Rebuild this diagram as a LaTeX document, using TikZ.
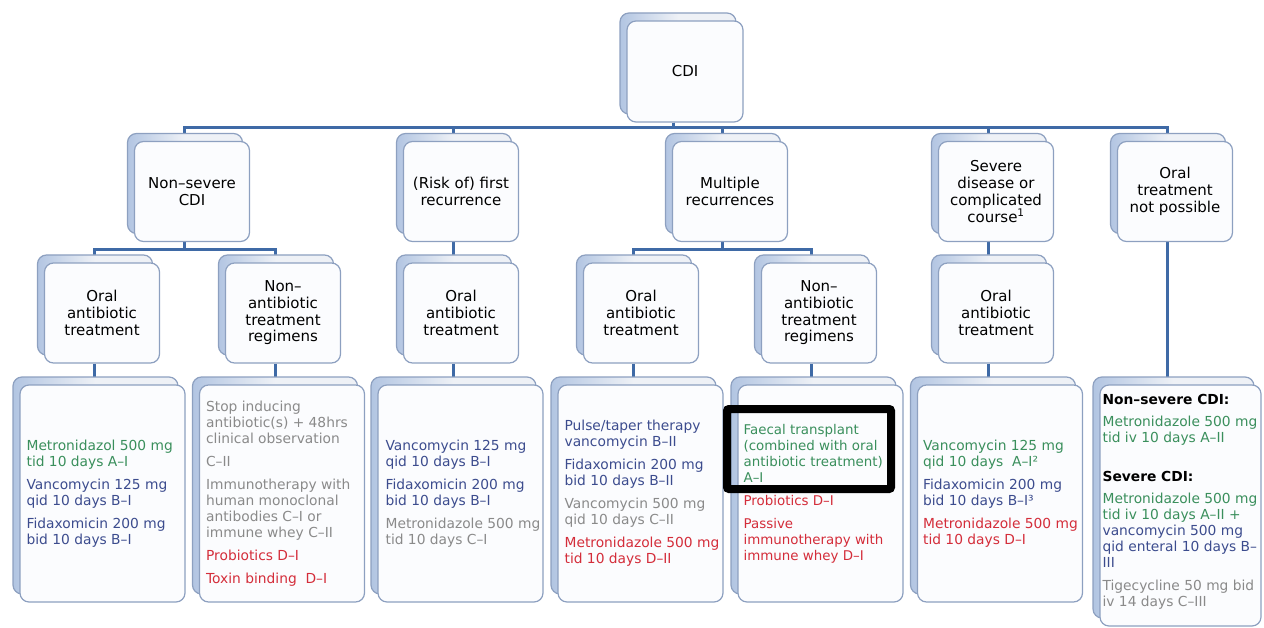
\documentclass[tikz,border=0pt]{standalone}
\usepackage{fontspec}
\setmainfont{DejaVu Sans}
\usetikzlibrary{shadows,backgrounds}
\definecolor{cgreen}{HTML}{3A8F5C}
\definecolor{cblue}{HTML}{3C4C8E}
\definecolor{cgray}{HTML}{8A8A8A}
\definecolor{cred}{HTML}{D42D3A}
\definecolor{boxborder}{HTML}{8DA0C0}
\definecolor{boxfill}{HTML}{FBFCFE}
\definecolor{shadeL}{HTML}{B2C5E2}
\definecolor{shadeR}{HTML}{EEF1F6}
\definecolor{conn}{HTML}{3F6AA6}
\newcommand{\Gr}[1]{\textcolor{cgreen}{#1}}
\newcommand{\Bl}[1]{\textcolor{cblue}{#1}}
\newcommand{\Gy}[1]{\textcolor{cgray}{#1}}
\newcommand{\Rd}[1]{\textcolor{cred}{#1}}
\tikzset{
  box/.style={draw=boxborder, line width=1.2pt, rounded corners=9pt, fill=boxfill, inner sep=0pt,
    copy shadow={shadow xshift=-7pt, shadow yshift=8pt, left color=shadeL, right color=shadeR, middle color=shadeR, draw=boxborder, line width=1.2pt}},
  titlebox/.style={box, minimum width=115pt, minimum height=100pt, align=center,
    font=\fontsize{15}{16.7}\selectfont},
  leafbox/.style={box, minimum width=165pt, minimum height=217pt},
  conn/.style={draw=conn, line width=3pt},
  txt/.style={anchor=west, align=left, inner sep=0pt, font=\fontsize{13.8}{16}\selectfont},
}
\begin{document}
\begin{tikzpicture}[x=1pt,y=-1pt]
\useasboundingbox (0,0) rectangle (1264,628);
% level 1
\node[titlebox, minimum width=116pt, minimum height=101pt] (cdi) at (685,71.5) {CDI};
% level 2
\node[titlebox] (ns) at (192,191.5) {Non–severe\\CDI};
\node[titlebox] (risk) at (461,191.5) {(Risk of) first\\recurrence};
\node[titlebox] (mult) at (730,191.5) {Multiple\\recurrences};
\node[titlebox] (sev) at (996,191.5) {Severe\\disease or\\complicated\\course\textsuperscript{1}};
\node[titlebox] (np) at (1175,191.5) {Oral\\treatment\\not possible};
% level 3
\node[titlebox] (nsoral) at (102,313) {Oral\\antibiotic\\treatment};
\node[titlebox] (nsnon) at (283,313) {Non–\\antibiotic\\treatment\\regimens};
\node[titlebox] (riskoral) at (461,313) {Oral\\antibiotic\\treatment};
\node[titlebox] (multoral) at (641,313) {Oral\\antibiotic\\treatment};
\node[titlebox] (multnon) at (819,313) {Non–\\antibiotic\\treatment\\regimens};
\node[titlebox] (sevoral) at (996,313) {Oral\\antibiotic\\treatment};
% bottom boxes
\node[leafbox] (b1) at (102.5,493.5) {};
\node[leafbox] (b2) at (282,493.5) {};
\node[leafbox] (b3) at (460.5,493.5) {};
\node[leafbox] (b4) at (640.5,493.5) {};
\node[leafbox] (b5) at (820.5,493.5) {};
\node[leafbox] (b6) at (1000,493.5) {};
\node[leafbox, minimum width=161pt, minimum height=241pt] (b7) at (1180.5,505.5) {};
% connectors
\begin{scope}[on background layer]
\foreach \c in {ns,risk,mult,sev,np}
  \draw[conn] ([xshift=-12pt]cdi.south) -- ++(0,4.5) -| ([xshift=-8pt]\c.north);
\foreach \c in {nsoral,nsnon}
  \draw[conn] ([xshift=-8pt]ns.south) -- ++(0,7) -| ([xshift=-8pt]\c.north);
\foreach \c in {multoral,multnon}
  \draw[conn] ([xshift=-8pt]mult.south) -- ++(0,7) -| ([xshift=-8pt]\c.north);
\draw[conn] ([xshift=-8pt]risk.south) -- ([xshift=-8pt]riskoral.north);
\draw[conn] ([xshift=-8pt]sev.south) -- ([xshift=-8pt]sevoral.north);
\draw[conn] ([xshift=-8pt]nsoral.south) -- ([xshift=-8pt]nsoral.south |- b1.north);
\draw[conn] ([xshift=-8pt]nsnon.south) -- ([xshift=-8pt]nsnon.south |- b2.north);
\draw[conn] ([xshift=-8pt]riskoral.south) -- ([xshift=-8pt]riskoral.south |- b3.north);
\draw[conn] ([xshift=-8pt]multoral.south) -- ([xshift=-8pt]multoral.south |- b4.north);
\draw[conn] ([xshift=-8pt]multnon.south) -- ([xshift=-8pt]multnon.south |- b5.north);
\draw[conn] ([xshift=-8pt]sevoral.south) -- ([xshift=-8pt]sevoral.south |- b6.north);
\draw[conn] ([xshift=-8pt]np.south) -- ([xshift=-8pt]np.south |- b7.north);
\end{scope}
% texts
\node[txt] (t1) at ([xshift=7pt]b1.west) {\Gr{Metronidazol 500 mg}\\\Gr{tid 10 days A–I}\\[7pt]
  \Bl{Vancomycin 125 mg}\\\Bl{qid 10 days B–I}\\[7pt]
  \Bl{Fidaxomicin 200 mg}\\\Bl{bid 10 days B–I}};
\node[txt] (t2) at ([xshift=7pt]b2.west) {\Gy{Stop inducing}\\\Gy{antibiotic(s) + 48hrs}\\\Gy{clinical observation}\\[7pt]
  \Gy{C–II}\\[7pt]
  \Gy{Immunotherapy with}\\\Gy{human monoclonal}\\\Gy{antibodies C–I or}\\\Gy{immune whey C–II}\\[7pt]
  \Rd{Probiotics D–I}\\[7pt]
  \Rd{Toxin binding\ \ D–I}};
\node[txt] (t3) at ([xshift=8pt]b3.west) {\Bl{Vancomycin 125 mg}\\\Bl{qid 10 days B–I}\\[7pt]
  \Bl{Fidaxomicin 200 mg}\\\Bl{bid 10 days B–I}\\[7pt]
  \Gy{Metronidazole 500 mg}\\\Gy{tid 10 days C–I}};
\node[txt] (t4) at ([xshift=7pt]b4.west) {\Bl{Pulse/taper therapy}\\\Bl{vancomycin B–II}\\[7pt]
  \Bl{Fidaxomicin 200 mg}\\\Bl{bid 10 days B–II}\\[7pt]
  \Gy{Vancomycin 500 mg}\\\Gy{qid 10 days C–II}\\[7pt]
  \Rd{Metronidazole 500 mg}\\\Rd{tid 10 days D–II}};
\node[txt, font=\fontsize{13.4}{16}\selectfont] (t5) at ([xshift=6pt]b5.west) {\Gr{Faecal transplant}\\\Gr{(combined with oral}\\\Gr{antibiotic treatment)}\\\Gr{A–I}\\[7pt]
  \Rd{Probiotics D–I}\\[7pt]
  \Rd{Passive}\\\Rd{immunotherapy with}\\\Rd{immune whey D–I}};
\node[txt] (t6) at ([xshift=6pt]b6.west) {\Gr{Vancomycin 125 mg}\\\Gr{qid 10 days\ \ A–I²}\\[7pt]
  \Bl{Fidaxomicin 200 mg}\\\Bl{bid 10 days B–I³}\\[7pt]
  \Rd{Metronidazole 500 mg}\\\Rd{tid 10 days D–I}};
\node[txt] (t7) at ([xshift=3pt,yshift=4pt]b7.west) {\textbf{Non–severe CDI:}\\[6pt]
  \Gr{Metronidazole 500 mg}\\\Gr{tid iv 10 days A–II}\\[23pt]
  \textbf{Severe CDI:}\\[6pt]
  \Gr{Metronidazole 500 mg}\\\Gr{tid iv 10 days A–II +}\\
  \Bl{vancomycin 500 mg}\\\Bl{qid enteral 10 days B–}\\\Bl{III}\\[7pt]
  \Gy{Tigecycline 50 mg bid}\\\Gy{iv 14 days C–III}};
% highlight frame
\node[draw=black, line width=8pt, rounded corners=2pt, inner sep=0pt, minimum width=164pt, minimum height=80pt] (hl) at (809,449) {};
\end{tikzpicture}
\end{document}
